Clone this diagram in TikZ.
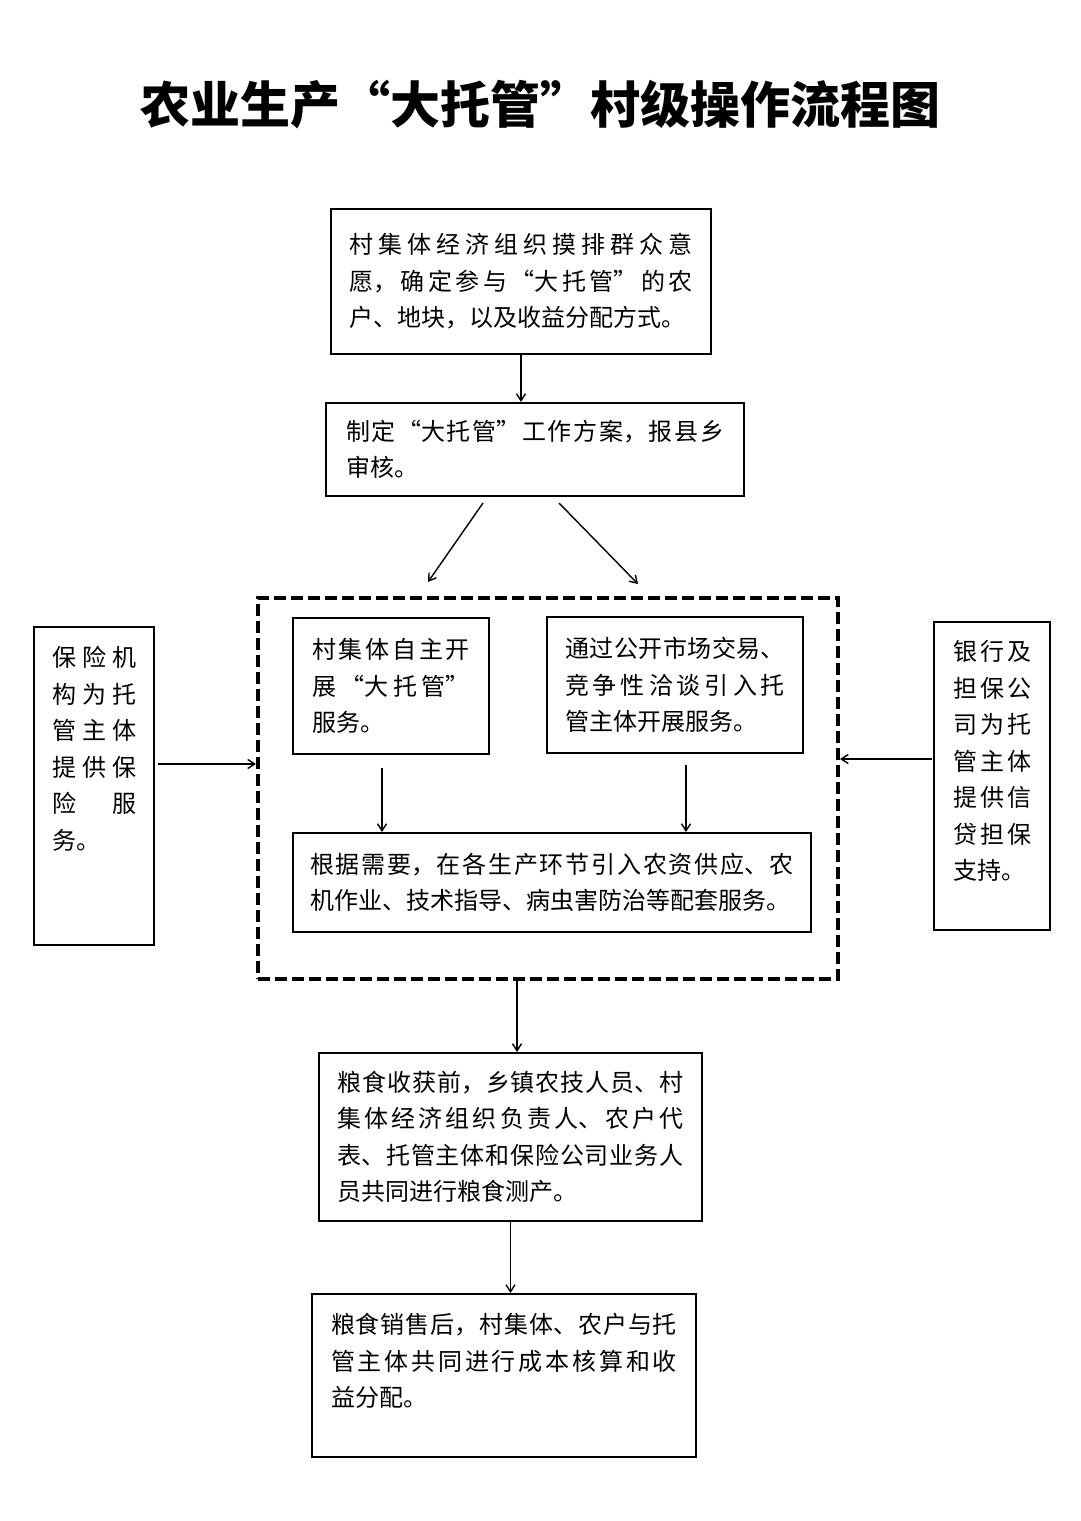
\documentclass[tikz,border=0pt]{standalone}
\usepackage{fontspec}
\setmainfont{Noto Sans CJK SC}
\usetikzlibrary{arrows.meta}
\XeTeXlinebreaklocale "zh"
\XeTeXlinebreakskip=0pt plus 8pt

\begin{document}
\begin{tikzpicture}[x=1pt, y=-1pt,
		box/.style={draw, line width=2pt, inner sep=0pt, anchor=north west, align=justify, font=\fontsize{24}{36.5}\selectfont},
		grp/.style={draw, line width=4pt, dash pattern=on 12pt off 5pt, inner sep=0pt, anchor=north west},
		arr/.style={-{Straight Barb[length=7pt, width=9pt]}, line width=1.4pt}]
		\useasboundingbox (0, 0) rectangle (1080, 1521);

		\node[font=\fontsize{50}{60}\selectfont\bfseries] (title) at (540, 105) {农业生产“大托管”村级操作流程图};

		% main column
		\node[box, minimum width=380pt, minimum height=145pt, text width=344pt] (b1) at (330, 208)
			{村集体经济组织摸排群众意\linebreak 愿，确定参与“大托管”的农\linebreak 户、地块，以及收益分配方式。};
		\node[box, minimum width=418pt, minimum height=93pt, text width=378pt] (b2) at (325, 402)
			{制定“大托管”工作方案，报县乡\linebreak 审核。};

		\node[grp, minimum width=580pt, minimum height=381pt] (grp) at (256, 596) {};
		\node[box, minimum width=196pt, minimum height=136pt, text width=158pt] (own) at (292, 617)
			{村集体自主开\linebreak 展“大托管”\linebreak 服务。};
		\node[box, minimum width=256pt, minimum height=136pt, text width=220pt] (mkt) at (546, 616)
			{通过公开市场交易、\linebreak 竞争性洽谈引入托\linebreak 管主体开展服务。};
		\node[box, minimum width=518pt, minimum height=99pt, text width=484pt] (sup) at (292, 832)
			{根据需要，在各生产环节引入农资供应、农\linebreak 机作业、技术指导、病虫害防治等配套服务。};

		\node[box, minimum width=383pt, minimum height=168pt, text width=346pt] (b5) at (318, 1052)
			{粮食收获前，乡镇农技人员、村\linebreak 集体经济组织负责人、农户代\linebreak 表、托管主体和保险公司业务人\linebreak 员共同进行粮食测产。};
		\node[box, minimum width=384pt, minimum height=163pt, text width=346pt] (b6) at (311, 1293)
			{粮食销售后，村集体、农户与托\linebreak 管主体共同进行成本核算和收\linebreak 益分配。\rule[-31pt]{0pt}{31pt}};

		% side boxes
		\node[box, minimum width=120pt, minimum height=318pt, text width=84pt] (ins) at (33, 626)
			{保险机\linebreak 构为托\linebreak 管主体\linebreak 提供保\linebreak 险\hfill 服\linebreak 务。\rule[-76pt]{0pt}{76pt}};
		\node[box, minimum width=116pt, minimum height=308pt, text width=78pt] (bank) at (933, 621)
			{银行及\linebreak 担保公\linebreak 司为托\linebreak 管主体\linebreak 提供信\linebreak 贷担保\linebreak 支持。\rule[-32pt]{0pt}{32pt}};

		% free ends of the arrows
		\coordinate (s2) at (483, 503);
		\coordinate (e2) at (428, 582);
		\coordinate (s3) at (559, 503);
		\coordinate (e3) at (638, 584);
		\coordinate (s4) at (382, 768);
		\coordinate (s5) at (686, 765);
		\coordinate (s6) at (158, 764);
		\coordinate (s7) at (932, 759);
		\coordinate (s8) at (517, 977);

		\draw[arr] (b1.south) -- (b1.south |- b2.north);
		\draw[arr] (s2) -- (e2);
		\draw[arr] (s3) -- (e3);
		\draw[arr] (s4) -- (s4 |- sup.north);
		\draw[arr] (s5) -- (s5 |- sup.north);
		\draw[arr] (s6) -- (s6 -| grp.west);
		\draw[arr] (s7) -- (s7 -| grp.east);
		\draw[arr] (s8) -- (s8 |- b5.north);
		\draw[arr] (b5.south) -- (b5.south |- b6.north);
	\end{tikzpicture}
\end{document}
